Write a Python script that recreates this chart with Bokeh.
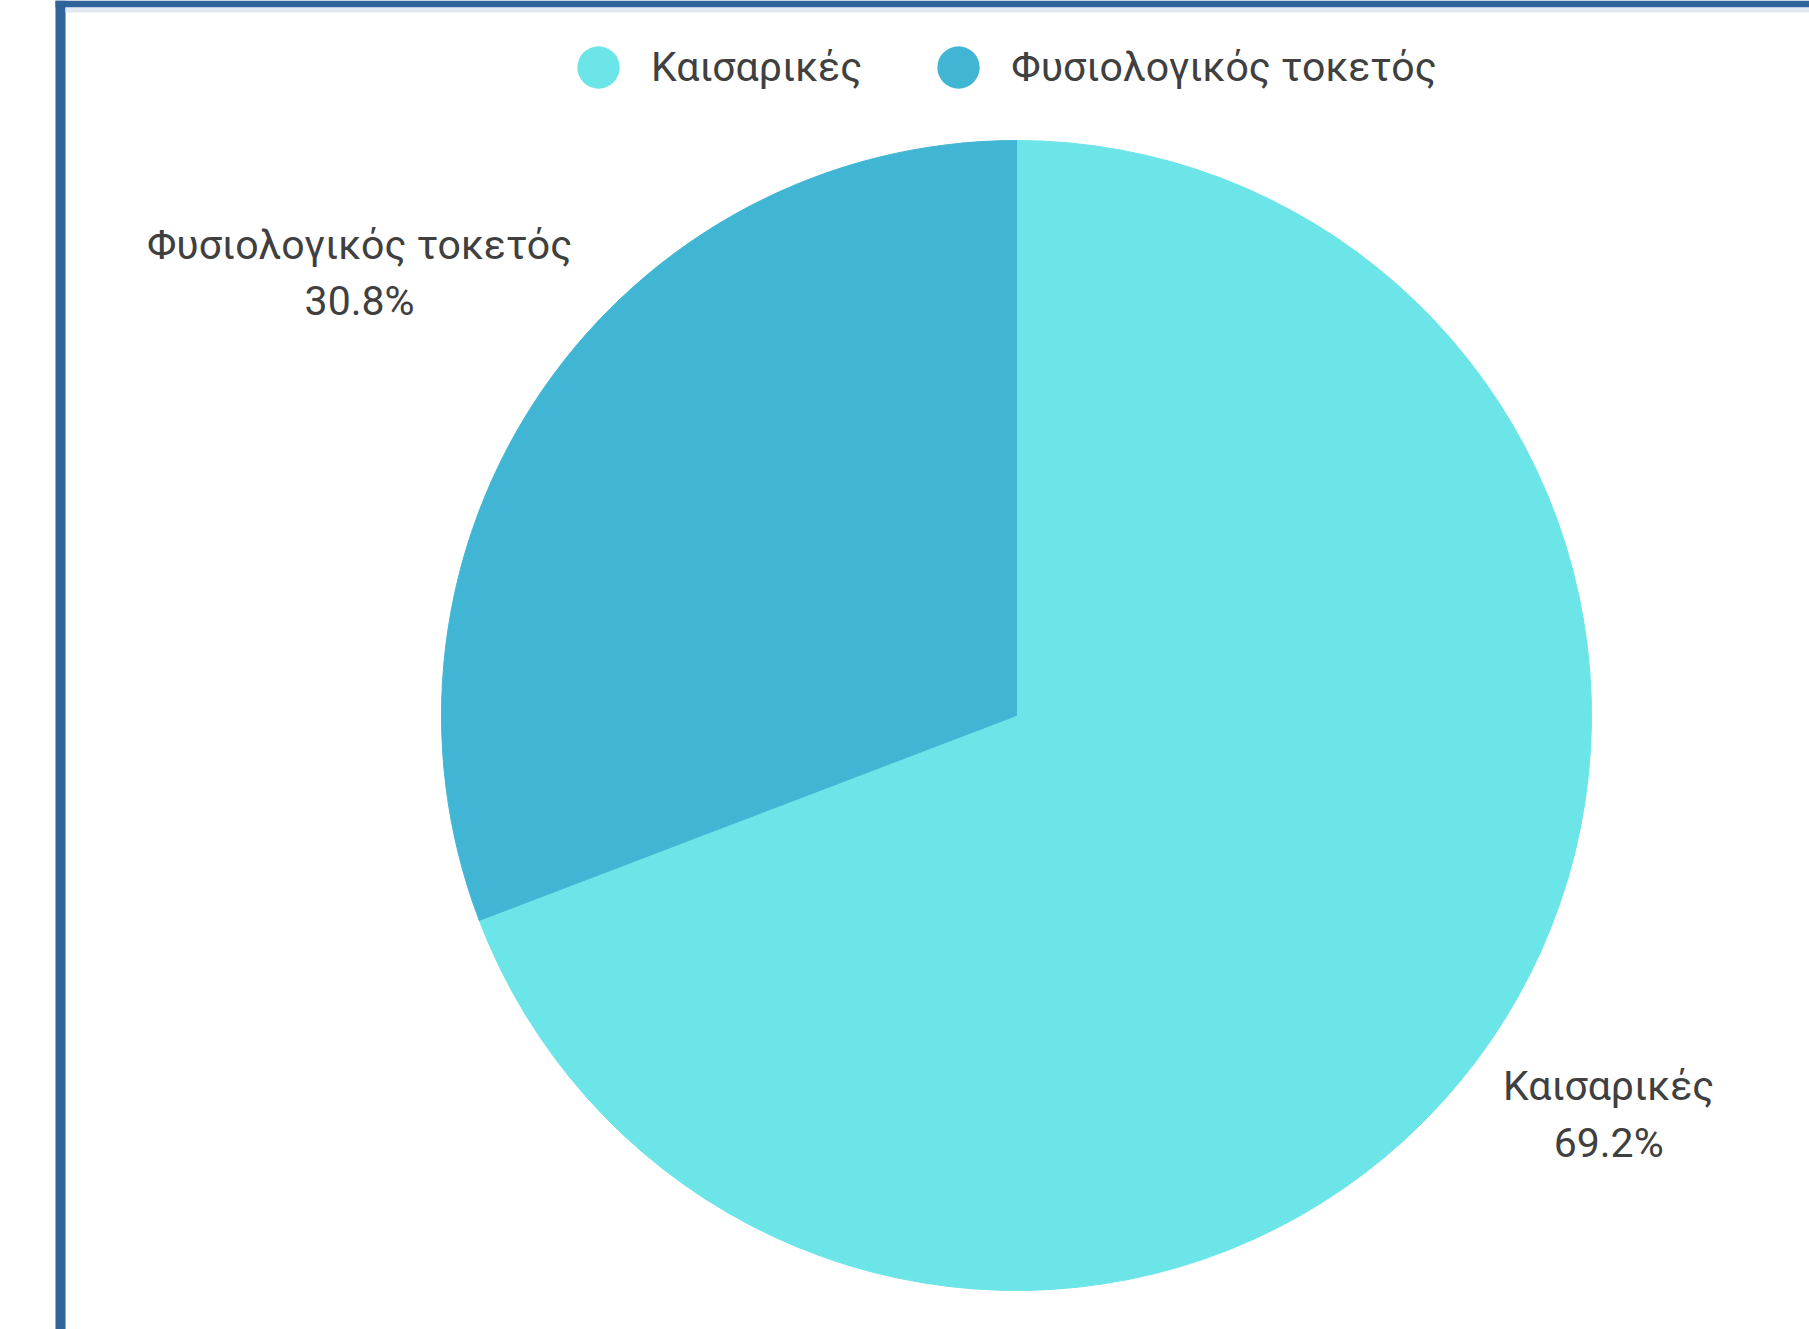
import math
from bokeh.plotting import figure
from bokeh.models import Range1d, ColumnDataSource, Legend, LegendItem, BoxAnnotation
from bokeh.core.properties import value
from bokeh.embed import file_html
from bokeh.resources import INLINE

# ---- data ----
categories = ["Καισαρικές", "Φυσιολογικός τοκετός"]
percentages = [69.2, 30.8]
colors = ["#6be5e8", "#41b6d4"]

# ---- layout constants (1 data unit = 1 px) ----
W, H = 1809, 1329
CX, CY = 1016, 715          # pie centre in page pixels
R = 575
LABEL_RADIUS = [714, 792]   # distance of each label block centre from pie centre
LABEL_ROTATE = math.radians(0.6)
FONT = "Roboto"
FSIZE = "41px"
TEXT_COLOR = "#404040"

p = figure(width=W, height=H, output_backend="svg", toolbar_location=None,
           x_range=Range1d(-CX, W - CX), y_range=Range1d(CY - H, CY),
           min_border=0, outline_line_color=None)
p.xaxis.visible = False
p.yaxis.visible = False
p.grid.visible = False
p.background_fill_color = "white"
p.border_fill_color = "white"

# wedges: start at 12 o'clock, clockwise
total = sum(percentages)
starts, ends, mids = [], [], []
cum = 0.0
for v in percentages:
    a0 = math.pi / 2 - 2 * math.pi * cum / total
    cum += v
    a1 = math.pi / 2 - 2 * math.pi * cum / total
    starts.append(a0)
    ends.append(a1)
    mids.append((a0 + a1) / 2)

src = ColumnDataSource(dict(cat=categories, pct=percentages, color=colors,
                            start=starts, end=ends))
p.wedge(x=0, y=0, radius=R, start_angle="start", end_angle="end",
        direction="clock", fill_color="color", line_color="color",
        line_width=1, source=src)

# outside labels
lx = [d * math.cos(m + LABEL_ROTATE) for d, m in zip(LABEL_RADIUS, mids)]
ly = [d * math.sin(m + LABEL_ROTATE) for d, m in zip(LABEL_RADIUS, mids)]
texts = [f"{c}\n{v:.1f}%" for c, v in zip(categories, percentages)]
lsrc = ColumnDataSource(dict(x=lx, y=ly, text=texts))
p.text(x="x", y="y", text="text", anchor="center", text_align="center",
       text_font=value(FONT), text_font_size=FSIZE,
       text_color=TEXT_COLOR, text_line_height=1.18, source=lsrc)

# legend (circle markers)
items = []
for c, col in zip(categories, colors):
    r = p.scatter(x=[float("nan")], y=[float("nan")], marker="circle", size=42,
                  fill_color=col, line_color=None)
    items.append(LegendItem(label=c, renderers=[r]))

legend = Legend(items=items, orientation="horizontal",
                location=(545, H - 120), glyph_width=106, glyph_height=106,
                label_standoff=0, spacing=43, padding=0, margin=0,
                border_line_color=None, background_fill_alpha=0,
                label_text_font=FONT, label_text_font_size=FSIZE,
                label_text_color=TEXT_COLOR)
p.add_layout(legend, "center")

# frame border (blue) as in the source page
p.add_layout(BoxAnnotation(left=55 - CX, right=65 - CX, bottom=CY - H, top=CY,
                           fill_color="#2f6399", fill_alpha=1, line_color=None))
p.add_layout(BoxAnnotation(left=55 - CX, right=W - CX, bottom=CY - 7, top=CY,
                           fill_color="#2f6399", fill_alpha=1, line_color=None))
p.add_layout(BoxAnnotation(left=65 - CX, right=W - CX, bottom=CY - 12, top=CY - 7,
                           fill_color="#e1e8f1", fill_alpha=1, line_color=None))

open("out.html", "w").write(file_html(p, INLINE))
